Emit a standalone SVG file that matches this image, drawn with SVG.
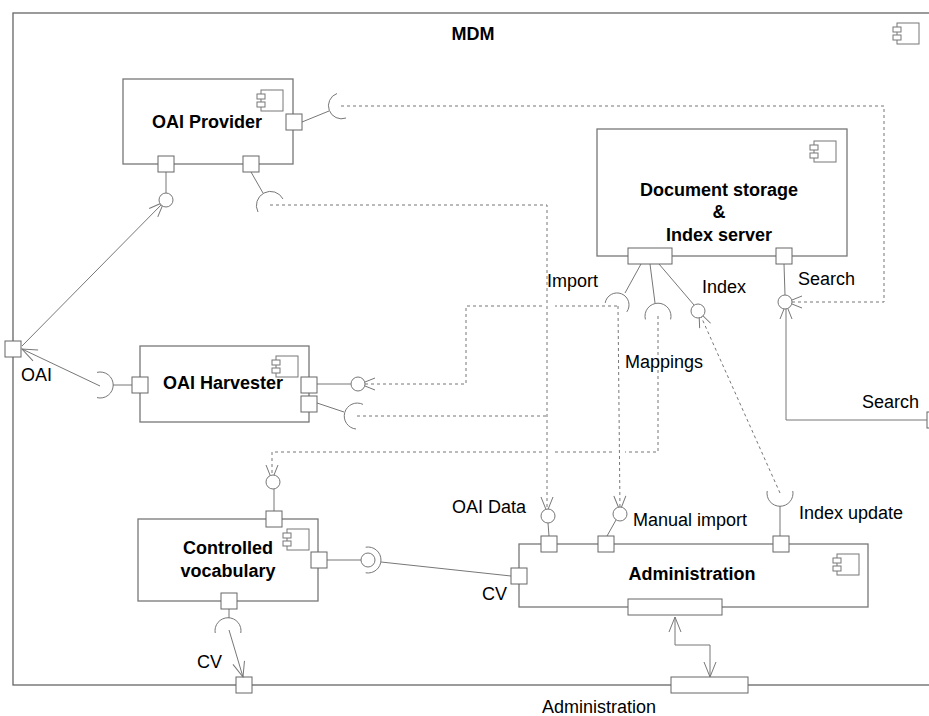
<svg xmlns="http://www.w3.org/2000/svg" width="929" height="716" viewBox="0 0 929 716">
<style>
.frame{fill:#fff;stroke:#666;stroke-width:1.3}
.box{fill:#fff;stroke:#777;stroke-width:1.3}
.port{fill:#fff;stroke:#666;stroke-width:1}
.ln{fill:none;stroke:#777;stroke-width:1}
.dot{fill:none;stroke:#777;stroke-width:1;stroke-dasharray:3 3}
.ball{fill:#fff;stroke:#777;stroke-width:1}
.t{font-family:"Liberation Sans",Arial,sans-serif;font-size:18px;fill:#000}
.b{font-weight:bold;text-anchor:middle}
</style>
<defs>
<g id="ci">
<rect x="4" y="0" width="22" height="21" fill="#fff" stroke="#777" stroke-width="1"/>
<rect x="0" y="4" width="8" height="5" fill="#fff" stroke="#777" stroke-width="1"/>
<rect x="0" y="12" width="8" height="5" fill="#fff" stroke="#777" stroke-width="1"/>
</g>
<marker id="a" viewBox="-17 -8 18 16" refX="0" refY="0" markerWidth="18" markerHeight="16" markerUnits="userSpaceOnUse" orient="auto-start-reverse">
<path d="M-15,-6 L0,0 L-15,6" fill="none" stroke="#777" stroke-width="1"/>
</marker>
</defs>

<g id="MDM">
<rect class="frame" x="13" y="13" width="930" height="672"/>
<use href="#ci" x="893" y="23"/>
<text class="t b" x="473" y="40">MDM</text>
<rect class="port" x="5" y="341" width="16" height="16"/>
<rect class="port" x="236" y="677" width="16" height="16"/>
<rect class="port" x="671" y="677" width="77" height="16"/>
<rect class="port" x="927" y="412" width="16" height="16"/>
<text class="t" x="21" y="381">OAI</text>
<text class="t" x="197" y="668">CV</text>
<text class="t" x="542" y="713">Administration</text>
<text class="t" x="862" y="408">Search</text>
</g>

<g id="connectors">
<!-- dotted dependencies -->
<path class="dot" d="M341,106 H884 V302 H787" marker-end="url(#a)"/>
<path class="dot" d="M270,205 H547 V512" marker-end="url(#a)"/>
<path class="dot" d="M617,306 H555 M542,306 H466 V384 H360" marker-end="url(#a)"/>
<path class="dot" d="M618,306 L620,511" marker-end="url(#a)"/>
<path class="dot" d="M357,416 H547"/>
<path class="dot" d="M658,316 V452 H625 M612,452 H553 M542,452 H272 V480" marker-end="url(#a)"/>
<path class="dot" d="M780,493 L699,312" marker-end="url(#a)"/>
<!-- solid connectors -->
<path class="ln" d="M22,346 L164,202" marker-end="url(#a)"/>
<path class="ln" d="M100,386 L22,349" marker-end="url(#a)"/>
<path class="ln" d="M927,420 H786 V304" marker-end="url(#a)"/>
<path class="ln" d="M229,630 L243,677" marker-end="url(#a)"/>
<path class="ln" d="M675,617 V645 H710 V677" marker-start="url(#a)" marker-end="url(#a)"/>
<path class="ln" d="M381,562 L511,576"/>
</g>

<g id="oai-provider">
<rect class="box" x="123" y="79" width="170" height="85"/>
<use href="#ci" x="257" y="90"/>
<text class="t b" x="207" y="128">OAI Provider</text>
<path class="ln" d="M166,172 V193"/>
<circle class="ball" cx="166" cy="200" r="7"/>
<path class="ln" d="M251,172 L263,193"/>
<path class="ln" d="M258,212 A13,13 0 1 1 283,199"/>
<path class="ln" d="M302,122 L329,111"/>
<path class="ln" d="M337,93.5 A13,13 0 1 0 346,118"/>
<rect class="port" x="286" y="114" width="16" height="16"/>
<rect class="port" x="158" y="156" width="16" height="16"/>
<rect class="port" x="243" y="156" width="16" height="16"/>
</g>

<g id="document-storage">
<rect class="box" x="597" y="129" width="250" height="127"/>
<use href="#ci" x="810" y="141"/>
<text class="t b" x="719" y="196">Document storage</text>
<text class="t b" x="719" y="218">&amp;</text>
<text class="t b" x="719" y="241">Index server</text>
<path class="ln" d="M641,264 L625,293"/>
<path class="ln" d="M605.2,302.9 A12,12 0 1 1 626.8,311.9"/>
<path class="ln" d="M650,264 L655,303"/>
<path class="ln" d="M645.4,319.4 A13,13 0 1 1 670.6,319.4"/>
<path class="ln" d="M659,264 L694,305"/>
<circle class="ball" cx="698" cy="311" r="7"/>
<path class="ln" d="M784,264 L785,295"/>
<circle class="ball" cx="785" cy="302" r="7"/>
<rect class="port" x="628" y="248" width="44" height="16"/>
<rect class="port" x="776" y="248" width="16" height="16"/>
<text class="t" x="547" y="287">Import</text>
<text class="t" x="702" y="293">Index</text>
<text class="t" x="798" y="285">Search</text>
<text class="t" x="625" y="368">Mappings</text>
</g>

<g id="oai-harvester">
<rect class="box" x="140" y="346" width="169" height="76"/>
<use href="#ci" x="272" y="356"/>
<text class="t b" x="223" y="389">OAI Harvester</text>
<path class="ln" d="M132,385 H113"/>
<path class="ln" d="M97,372.4 A13,13 0 1 1 97,397.6"/>
<path class="ln" d="M317,384 H351"/>
<circle class="ball" cx="358" cy="384" r="7"/>
<path class="ln" d="M317,403 L344,412"/>
<path class="ln" d="M363,404.4 A13,13 0 1 0 356,429"/>
<rect class="port" x="132" y="377" width="16" height="16"/>
<rect class="port" x="301" y="377" width="16" height="16"/>
<rect class="port" x="301" y="396" width="16" height="16"/>
</g>

<g id="controlled-vocabulary">
<rect class="box" x="138" y="519" width="180" height="82"/>
<use href="#ci" x="283" y="529"/>
<text class="t b" x="228" y="554">Controlled</text>
<text class="t b" x="228" y="577">vocabulary</text>
<path class="ln" d="M274,511 V489"/>
<circle class="ball" cx="273" cy="482" r="7"/>
<path class="ln" d="M327,560 H361"/>
<circle class="ball" cx="368" cy="560" r="7"/>
<path class="ln" d="M365.7,547.2 A13,13 0 1 1 365.7,572.8"/>
<path class="ln" d="M229,609 V618"/>
<path class="ln" d="M215.2,633 A13,13 0 1 1 240.8,633"/>
<rect class="port" x="266" y="511" width="16" height="16"/>
<rect class="port" x="311" y="552" width="16" height="16"/>
<rect class="port" x="221" y="593" width="16" height="16"/>
</g>

<g id="administration">
<rect class="box" x="519" y="544" width="349" height="63"/>
<use href="#ci" x="833" y="554"/>
<text class="t b" x="692" y="580">Administration</text>
<circle class="ball" cx="548" cy="516" r="7"/>
<path class="ln" d="M548,523 L549,536"/>
<circle class="ball" cx="620" cy="514" r="7"/>
<path class="ln" d="M616,520 L607,536"/>
<path class="ln" d="M767.2,491 A13,13 0 1 0 792.8,491"/>
<path class="ln" d="M780,506 V536"/>
<rect class="port" x="541" y="536" width="16" height="16"/>
<rect class="port" x="598" y="536" width="16" height="16"/>
<rect class="port" x="773" y="536" width="16" height="16"/>
<rect class="port" x="511" y="568" width="16" height="16"/>
<rect class="port" x="628" y="599" width="94" height="16"/>
<text class="t" x="452" y="513">OAI Data</text>
<text class="t" x="633" y="526">Manual import</text>
<text class="t" x="799" y="519">Index update</text>
<text class="t" x="482" y="600">CV</text>
</g>
</svg>
